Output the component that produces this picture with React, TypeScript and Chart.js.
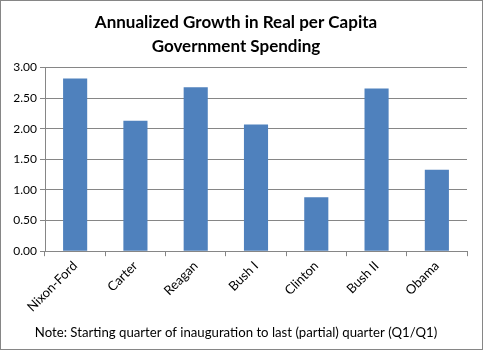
import React, { useEffect, useRef } from "react";
import { Chart, registerables } from "chart.js";

Chart.register(...registerables);

const categories = ["Nixon-Ford", "Carter", "Reagan", "Bush I", "Clinton", "Bush II", "Obama"];
const growth = [2.82, 2.13, 2.68, 2.07, 0.88, 2.66, 1.33];
const titleLines = ["Annualized Growth in Real per Capita", "Government Spending"];
const note = "Note: Starting quarter of inauguration to last (partial) quarter (Q1/Q1)";

const FONT = "Lato, 'Open Sans', 'DejaVu Sans', sans-serif";

export default function App() {
  const ref = useRef<HTMLCanvasElement | null>(null);
  useEffect(() => {
    document.body.style.margin = "0";
    const ctx = ref.current!;
    const chart = new Chart(ctx, {
      type: "bar",
      data: {
        labels: categories,
        datasets: [
          {
            data: growth,
            backgroundColor: "#4F81BD",
            borderWidth: 0,
            barPercentage: 0.4,
            categoryPercentage: 1,
          },
        ],
      },
      options: {
        animation: false,
        responsive: false,
        layout: { padding: { left: 4, right: 15, top: 4, bottom: 4 } },
        plugins: {
          legend: { display: false },
          tooltip: { enabled: false },
          title: {
            display: true,
            text: titleLines,
            color: "#000",
            font: { family: FONT, size: 17, weight: "bold", lineHeight: 1.4 },
            padding: { top: 6, bottom: 9 },
          },
          subtitle: {
            display: true,
            position: "bottom",
            text: note,
            color: "#000",
            font: { family: FONT, size: 13.2, weight: "normal" },
            padding: { top: 4, bottom: 4 },
          },
        },
        scales: {
          x: {
            afterFit: (s: any) => { s.height = 70; },
            grid: { display: true, drawOnChartArea: false, drawTicks: true, tickLength: 5, color: "#868686", offset: true },
            border: { color: "#868686" },
            ticks: {
              color: "#000",
              font: { family: FONT, size: 13 },
              minRotation: 45,
              maxRotation: 45,
              padding: 2,
            },
          },
          y: {
            min: 0,
            max: 3,
            afterFit: (s: any) => { s.width = 40; },
            grid: { color: "#868686", tickLength: 5 },
            border: { color: "#868686" },
            ticks: {
              stepSize: 0.5,
              color: "#000",
              font: { family: FONT, size: 12 },
              padding: 3,
              callback: (v: any) => Number(v).toFixed(2),
            },
          },
        },
      },
    });
    return () => chart.destroy();
  }, []);
  return (
    <div style={{ width: 483, height: 350, boxSizing: "border-box", border: "1px solid #868686", background: "#fff" }}>
      <canvas ref={ref} width={481} height={348} style={{ display: "block" }} />
    </div>
  );
}
